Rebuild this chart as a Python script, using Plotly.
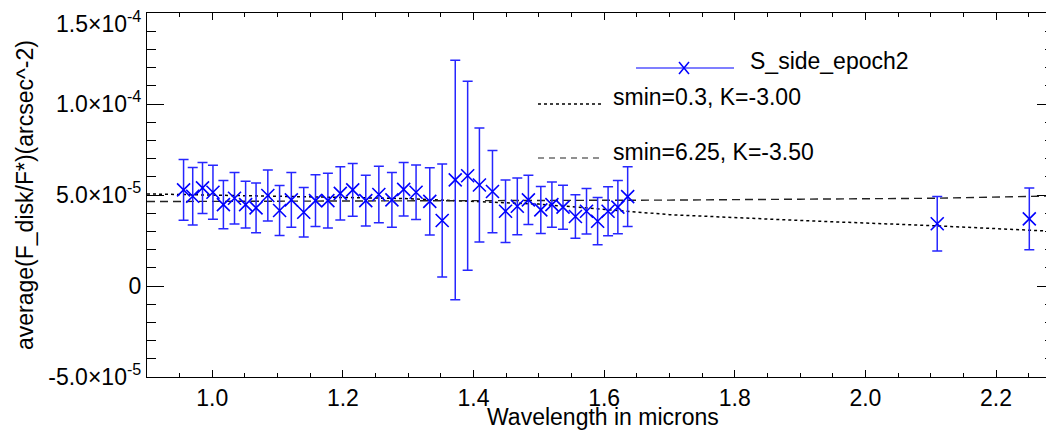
import plotly.graph_objects as go

# IFS channels (microns) + two IRDIS points
wavelength = [0.956, 0.970, 0.985, 1.001, 1.017, 1.034, 1.051, 1.067, 1.085, 1.103,
              1.121, 1.140, 1.158, 1.177, 1.196, 1.215, 1.235, 1.255, 1.275, 1.293,
              1.312, 1.333, 1.352, 1.372, 1.391, 1.409, 1.429, 1.449, 1.467, 1.484,
              1.503, 1.520, 1.537, 1.556, 1.573, 1.590, 1.606, 1.621, 1.636,
              2.110, 2.251]
# average surface brightness, units of 1e-5
flux_e5 = [5.28, 4.93, 5.39, 5.15, 4.47, 4.82, 4.47, 4.29, 4.97, 4.15,
           4.73, 4.05, 4.69, 4.69, 5.09, 5.28, 4.69, 5.03, 4.73, 5.31,
           5.15, 4.65, 3.60, 5.83, 6.06, 5.55, 5.19, 4.11, 4.38, 4.73,
           4.18, 4.47, 4.33, 3.82, 4.11, 3.56, 4.11, 4.33, 4.91,
           3.42, 3.69]
err_e5 = [1.67, 1.58, 1.40, 1.48, 1.33, 1.41, 1.28, 1.37, 1.40, 1.37,
          1.50, 1.36, 1.42, 1.50, 1.46, 1.45, 1.40, 1.55, 1.50, 1.47,
          1.50, 1.85, 3.11, 6.58, 5.19, 3.13, 2.26, 1.72, 1.56, 1.35,
          1.29, 1.24, 1.21, 1.19, 1.25, 1.30, 1.35, 1.46, 1.64,
          1.50, 1.70]

# model curves
model_wave = [0.90, 1.10, 1.30, 1.50, 1.70, 1.90, 2.10, 2.29]
model1_e5 = [5.06, 4.95, 4.80, 4.50, 3.92, 3.60, 3.32, 3.00]   # smin=0.3, K=-3.00
model2_e5 = [4.64, 4.65, 4.66, 4.68, 4.72, 4.77, 4.82, 4.95]   # smin=6.25, K=-3.50

ytick_vals = [-5e-5, 0, 5e-5, 1e-4, 1.5e-4]
# top label is drawn separately (IDL nudges it inside the frame)
ytick_text = ["-5.0×10<sup>-5</sup>", "0", "5.0×10<sup>-5</sup>",
              "1.0×10<sup>-4</sup>", ""]
ytop_label = "1.5×10<sup>-4</sup>"

FONT = "Liberation Sans, Arial, sans-serif"
BLUE = "#0000ff"
DASH_COL = "#222222"

fig = go.Figure()

fig.add_trace(go.Scatter(
    x=model_wave, y=[v * 1e-5 for v in model1_e5], mode="lines",
    line=dict(color="black", width=1.5, dash="dot"), showlegend=False))
fig.add_trace(go.Scatter(
    x=model_wave, y=[v * 1e-5 for v in model2_e5], mode="lines",
    line=dict(color=DASH_COL, width=1.4, dash="8px,5px"), showlegend=False))

fig.add_trace(go.Scatter(
    x=wavelength, y=[v * 1e-5 for v in flux_e5], mode="markers",
    marker=dict(symbol="x-thin", size=13, line=dict(color=BLUE, width=1.6)),
    error_y=dict(type="data", array=[e * 1e-5 for e in err_e5],
                 color="#2626ff", thickness=1.5, width=5),
    showlegend=False))

# hand-drawn legend (IDL style); positions as fractions of the plot box
def px(x):
    return (x - 147) / 907

def py(y):
    return (377 - y) / 364

fig.add_shape(type="line", xref="paper", yref="paper", x0=px(636), x1=px(734),
              y0=py(68), y1=py(68), line=dict(color=BLUE, width=1.2))
for sgn in (1, -1):
    fig.add_shape(type="line", xref="paper", yref="paper",
                  xsizemode="pixel", ysizemode="pixel",
                  xanchor=px(684), yanchor=py(68),
                  x0=-5, x1=5, y0=-6 * sgn, y1=6 * sgn,
                  line=dict(color=BLUE, width=1.5))
fig.add_shape(type="line", xref="paper", yref="paper", x0=px(538), x1=px(601),
              y0=py(104), y1=py(104), line=dict(color="black", width=1.3, dash="dot"))
fig.add_shape(type="line", xref="paper", yref="paper", x0=px(538), x1=px(601),
              y0=py(158), y1=py(158), line=dict(color=DASH_COL, width=1.2, dash="6px,5px"))

legend_items = [("S_side_epoch2", 748, 61), ("smin=0.3, K=-3.00", 611, 97),
                ("smin=6.25, K=-3.50", 611, 152)]
for txt, lx, ly in legend_items:
    fig.add_annotation(text=txt, xref="paper", yref="paper", x=px(lx), y=py(ly),
                       xanchor="left", yanchor="middle", showarrow=False,
                       font=dict(size=23, color="black", family=FONT))

fig.add_annotation(text=ytop_label, xref="paper", yref="paper", x=px(143), y=py(22),
                   xanchor="right", yanchor="middle", showarrow=False,
                   font=dict(size=23, color="black", family=FONT))

# axis titles
fig.add_annotation(text="Wavelength in microns", xref="paper", yref="paper",
                   x=px(603), y=py(417), xanchor="center", yanchor="middle",
                   showarrow=False, font=dict(size=23, color="black", family=FONT))
fig.add_annotation(text="average(F_disk/F*)(arcsec^-2)", xref="paper", yref="paper",
                   x=px(25), y=py(195), xanchor="center", yanchor="middle",
                   textangle=-90, showarrow=False,
                   font=dict(size=23, color="black", family=FONT))

# page body has an 8px margin, so the figure is 8px smaller than the window
fig.update_layout(
    width=1046, height=434,
    margin=dict(l=139, r=0, t=5, b=65, autoexpand=False),
    paper_bgcolor="white", plot_bgcolor="white",
    font=dict(family=FONT, size=23, color="black"),
    xaxis=dict(range=[0.9, 2.2888], showgrid=False, zeroline=False, automargin=False,
               showline=True, linecolor="black", linewidth=1.3, mirror="allticks",
               ticks="inside", ticklen=7, tickcolor="black",
               ticklabeloverflow="allow", ticklabelstandoff=0,
               tickvals=[1.0, 1.2, 1.4, 1.6, 1.8, 2.0, 2.2],
               ticktext=["1.0", "1.2", "1.4", "1.6", "1.8", "2.0", "2.2"],
               minor=dict(dtick=0.05, tick0=0, ticks="inside", ticklen=3.5,
                          tickcolor="black", showgrid=False)),
    yaxis=dict(range=[-5e-5, 1.5e-4], showgrid=False, zeroline=False, automargin=False,
               showline=True, linecolor="black", linewidth=1.3, mirror="allticks",
               ticks="inside", ticklen=17, tickcolor="black",
               ticklabeloverflow="allow",
               tickvals=ytick_vals, ticktext=ytick_text,
               minor=dict(dtick=1e-5, tick0=0, ticks="inside", ticklen=9,
                          tickcolor="black", showgrid=False)),
)

fig.write_html("out.html")
